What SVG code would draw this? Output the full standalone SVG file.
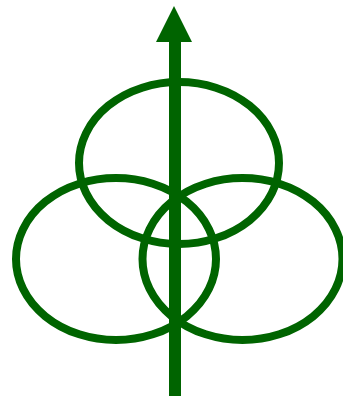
<svg xmlns="http://www.w3.org/2000/svg" width="343" height="396" viewBox="0 0 343 396">
<style>
.e{fill:none;stroke:#006400;stroke-width:8}
</style>
<rect width="343" height="396" fill="#fff"/>
<g id="top"><ellipse class="e" cx="179" cy="163" rx="100" ry="81"/></g>
<g id="left"><ellipse class="e" cx="116" cy="259" rx="100" ry="81"/></g>
<g id="right"><ellipse class="e" cx="242.5" cy="259" rx="100" ry="81"/></g>
<g id="connectors">
<line x1="175" y1="40" x2="175" y2="396" stroke="#006400" stroke-width="12"/>
<polygon points="174,6 192,42 156,42" fill="#006400"/>
</g>
</svg>
